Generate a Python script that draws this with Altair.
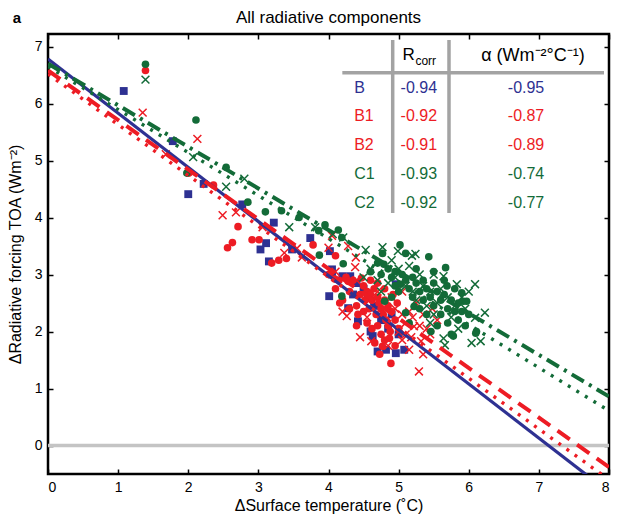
import altair as alt
import pandas as pd

# ---------------- data ----------------
B_points = [(1.08,6.22),(1.78,5.34),(2.00,4.41),(2.22,4.59),(2.77,4.23),(3.03,3.44),(3.11,3.55),
            (3.22,3.91),(3.15,3.23),(3.48,3.44),(3.74,3.64),(4.02,3.41),(4.05,3.09),(4.05,3.00),
            (4.31,2.97),(4.01,2.62),(4.28,2.41),(4.42,2.18),(4.63,1.92),(4.70,1.65),(4.96,1.62),
            (5.08,1.68),(4.82,1.68),(4.96,2.83),(4.56,2.59),(4.50,2.75),(4.65,2.45),(4.75,2.20),
            (4.85,2.05),(4.40,2.85),(4.90,2.30),(5.00,1.95),(4.60,2.00),(4.35,2.65),(4.20,2.97)]

B1_points = [(1.39,6.58),(2.01,4.78),(2.36,4.57),(2.71,3.84),(2.56,3.47),(2.63,3.56),(2.91,3.61),
             (3.01,3.61),(3.19,3.20),(3.29,3.25),(3.40,3.28),(3.78,3.52),(4.10,3.33),(4.09,2.92),
             (4.16,2.50),(4.47,2.94),(4.89,1.44),(4.77,1.74),(4.87,1.88),(4.50,2.80),(4.55,2.70),
             (4.60,2.65),(4.62,2.55),(4.65,2.75),(4.70,2.60),(4.72,2.50),(4.75,2.40),(4.78,2.30),
             (4.80,2.55),(4.82,2.20),(4.85,2.10),(4.88,2.00),(4.90,2.35),(4.68,2.30),(4.58,2.40),
             (4.52,2.55),(4.45,2.65),(4.40,2.45),(4.35,2.90),(4.30,2.70),(4.25,2.95),(4.42,2.30),
             (4.55,2.15),(4.62,2.05),(4.70,2.10),(4.75,1.95),(4.80,1.85),(4.95,2.20),(4.98,2.50),
             (5.00,2.05),(4.60,2.90),(4.70,2.85),(4.80,2.75),(4.92,2.65),(4.66,1.80),(4.73,1.60),
             (4.85,2.45),(4.50,2.35),(4.40,2.10),(4.20,2.55),(4.10,2.75),(4.30,2.40),(4.95,1.75),
             (4.00,3.00),(4.15,2.90),(4.28,2.88)]

B2_points = [(1.35,5.84),(2.13,5.38),(1.68,5.11),(2.49,4.04),(2.68,4.09),(3.06,3.83),(3.37,3.38),
             (3.55,3.46),(3.62,3.30),(4.00,3.47),(4.05,3.68),(4.28,3.50),(4.39,3.30),(4.38,3.13),
             (4.26,2.27),(4.61,1.83),(5.15,1.68),(5.22,2.09),(5.32,1.83),(5.29,1.30),(4.95,2.40),
             (5.05,2.30),(5.10,2.15),(5.15,2.35),(5.20,2.25),(5.25,2.50),(5.30,2.10),(5.35,2.30),
             (5.40,2.05),(5.45,1.95),(5.00,2.00),(5.05,1.85),(5.10,1.95),(5.18,1.90),(4.90,2.60),
             (4.85,1.75),(5.55,2.20),(5.35,1.60),(4.70,2.70),(4.55,2.25),(4.45,1.90),(4.40,2.90),
             (5.05,2.70),(4.10,3.05),(5.48,2.40),(4.20,2.35),(4.58,2.70)]

C1_points = [(1.39,6.69),(2.11,5.71),(1.98,4.78),(2.54,4.88),(2.85,4.27),(3.10,4.10),(3.33,4.12),
             (3.58,4.00),(3.95,3.87),(3.86,3.77),(4.14,3.78),(4.19,3.65),(3.87,3.34),(4.21,3.19),
             (4.77,3.37),(5.02,3.52),(5.10,3.37),(5.43,3.31),(5.67,3.12),(4.19,2.62),(4.80,2.53),
             (5.10,2.33),(4.79,3.18),(5.03,2.83),(5.22,2.44),(5.69,2.80),(5.90,2.68),(5.92,2.53),
             (6.11,2.00),(5.78,1.92),(5.46,2.00),(6.10,1.97),(5.97,2.53),(4.70,3.20),(4.75,3.00),
             (4.85,3.10),(4.90,2.95),(4.95,3.05),(4.95,2.80),(5.00,2.70),(5.05,3.00),(5.10,2.90),
             (5.15,2.75),(5.20,2.95),(5.25,2.85),(5.30,2.70),(5.35,2.90),(5.35,2.55),(5.40,2.75),
             (5.45,2.60),(5.50,2.85),(5.50,2.45),(5.55,2.70),(5.60,2.55),(5.60,2.30),(5.65,2.65),
             (5.70,2.40),(5.70,2.15),(5.75,2.55),(5.80,2.35),(5.85,2.50),(5.85,2.20),(5.90,2.35),
             (5.95,2.10),(5.55,2.10),(5.40,2.30),(5.30,2.40),(5.20,2.60),(5.65,2.90),(5.80,2.75),
             (6.00,2.30),(5.25,3.10),(5.50,3.05),(4.60,3.05),(4.90,2.60),(5.75,1.95),(5.15,2.15)]

C2_points = [(1.39,6.42),(2.07,5.06),(2.54,4.54),(2.80,4.68),(3.44,3.83),(3.81,3.83),(4.06,3.71),
             (4.21,3.65),(4.53,3.43),(4.77,3.48),(5.24,3.36),(4.99,3.41),(5.19,3.33),(5.64,2.97),
             (5.50,3.00),(5.83,2.83),(6.09,2.83),(6.23,2.33),(6.09,2.24),(6.04,1.80),(6.17,1.83),
             (5.64,1.88),(5.66,1.76),(4.60,3.10),(4.70,2.90),(4.85,2.85),(4.95,2.95),(5.00,3.10),
             (5.10,2.80),(5.20,2.70),(5.30,3.00),(5.35,2.80),(5.45,2.70),(5.55,2.50),(5.60,2.75),
             (5.70,2.60),(5.80,2.45),(5.90,2.60),(5.95,2.40),(5.75,2.25),(5.50,2.30),(5.40,2.45),
             (5.25,2.55),(5.15,3.15),(4.90,3.25),(6.00,2.70),(5.85,2.05),(5.45,2.15),(4.75,2.70),
             (4.50,2.95)]

# regression lines: value at x = 0 and at x = 8
line_series = ["B", "B1", "B2", "C1", "C2"]
line_y_at0 = [6.78, 6.58, 6.52, 6.70, 6.65]
line_y_at8 = [-0.82, -0.38, -0.60, 0.86, 0.61]

# table
table_labels = ["B", "B1", "B2", "C1", "C2"]
table_rcorr = ["-0.94", "-0.92", "-0.91", "-0.93", "-0.92"]
table_alpha = ["-0.95", "-0.87", "-0.89", "-0.74", "-0.77"]

colors = {"B": "#2e3192", "B1": "#ed1c24", "B2": "#ed1c24", "C1": "#136b38", "C2": "#136b38"}

# ---------------- layout ----------------
W, H = 561, 440
FONT = "Liberation Sans"
xs = alt.Scale(domain=[0, 8], nice=False, zero=False)
ys = alt.Scale(domain=[-0.5, 7.22], nice=False, zero=False)
X_PATH = "M -1 -1 L 1 1 M -1 1 L 1 -1"


def pts_df(points):
    return pd.DataFrame({"x": [p[0] for p in points], "y": [p[1] for p in points]})


main_x_axis = alt.Axis(values=list(range(9)), ticks=False, domain=False, grid=False,
                       labelFontSize=14, labelFont=FONT, labelColor="black", labelPadding=6,
                       title="ΔSurface temperature (˚C)", titleFont=FONT, titleFontSize=16,
                       titleFontWeight="normal", titleColor="black", titlePadding=3, format="d")
main_y_axis = alt.Axis(values=list(range(8)), ticks=False, domain=False, grid=False,
                       labelFontSize=14, labelFont=FONT, labelColor="black", labelPadding=6,
                       title="ΔRadiative forcing TOA (Wm⁻²)", titleFont=FONT, titleFontSize=16,
                       titleFontWeight="normal", titleColor="black", titlePadding=11, format="d")


def tick_axis(orient, offset, n):
    return alt.Axis(orient=orient, offset=offset, values=list(range(n)), labels=False, ticks=True,
                    tickSize=5, tickWidth=1.5, tickColor="black", domain=False, grid=False, title=None)


def point_layer(points, shape, color, filled, size, first=False):
    kw = dict(shape=shape, size=size, clip=True)
    if filled:
        kw.update(filled=True, color=color, opacity=1, strokeWidth=0)
    else:
        kw.update(filled=False, stroke=color, strokeWidth=1.5, opacity=1)
    return alt.Chart(pts_df(points)).mark_point(**kw).encode(
        x=alt.X("x:Q", scale=xs, axis=main_x_axis if first else None),
        y=alt.Y("y:Q", scale=ys, axis=main_y_axis if first else None),
    )


zero_layer = alt.Chart(pd.DataFrame({"y": [0]})).mark_rule(color="#c4c4c4", strokeWidth=3.5).encode(
    y=alt.Y("y:Q", scale=ys, axis=None))

b_layer = point_layer(B_points, "square", colors["B"], True, 62, first=True)
b2_layer = point_layer(B2_points, X_PATH, colors["B2"], False, 62)
b1_layer = point_layer(B1_points, "circle", colors["B1"], True, 58)
c2_layer = point_layer(C2_points, X_PATH, colors["C2"], False, 62)
c1_layer = point_layer(C1_points, "circle", colors["C1"], True, 58)

dash = {"B": None, "B1": [15, 9], "B2": [3, 7], "C1": [14, 6, 3, 6], "C2": [3, 7]}
widths = {"B": 3.2, "B1": 4, "B2": 3.4, "C1": 4, "C2": 3.4}

line_layers = []
for i, s in enumerate(line_series):
    df = pd.DataFrame({"x": [0, 8], "y": [line_y_at0[i], line_y_at8[i]]})
    kw = dict(color=colors[s], strokeWidth=widths[s], clip=True)
    if dash[s]:
        kw["strokeDash"] = dash[s]
    if i == 0:
        ax_x, ax_y = tick_axis("top", -H, 9), tick_axis("right", -W, 8)
    elif i == 1:
        ax_x, ax_y = tick_axis("bottom", -H, 9), tick_axis("left", -W, 8)
    else:
        ax_x, ax_y = None, None
    line_layers.append(alt.Chart(df).mark_line(**kw).encode(
        x=alt.X("x:Q", scale=xs, axis=ax_x),
        y=alt.Y("y:Q", scale=ys, axis=ax_y),
    ))

# table
fx = W / 568.0
table_df = pd.DataFrame({"label": table_labels, "rcorr": table_rcorr, "alpha": table_alpha,
                         "color": [colors[s] for s in table_labels], "row": list(range(5))})
one = pd.DataFrame({"k": [0]})
ROW0, DROW = 53.5, 28.8
GRAY = "#a3a3a3"
rules = [
    alt.Chart(one).mark_rule(color=GRAY, strokeWidth=3.5).encode(
        x=alt.value(298 * fx), x2=alt.value(W - 5), y=alt.value(38.7)),
    alt.Chart(one).mark_rule(color=GRAY, strokeWidth=3.5).encode(
        x=alt.value(349 * fx), y=alt.value(6), y2=alt.value(179)),
    alt.Chart(one).mark_rule(color=GRAY, strokeWidth=3.5).encode(
        x=alt.value(406 * fx), y=alt.value(6), y2=alt.value(179)),
]


def col_text(field, xpos, align):
    return alt.Chart(table_df).transform_calculate(py=f"{ROW0} + datum.row * {DROW}").mark_text(
        align=align, baseline="middle", font=FONT, fontSize=16).encode(
        x=alt.value(xpos), y=alt.Y("py:Q", scale=None, axis=None),
        text=alt.Text(f"{field}:N"), color=alt.Color("color:N", scale=None, legend=None))


def label(txt, x, y, size, align="left", weight="normal"):
    return alt.Chart(one).mark_text(text=txt, align=align, baseline="middle", font=FONT,
                                    fontSize=size, fontWeight=weight, color="black").encode(
        x=alt.value(x), y=alt.value(y))


texts = [
    col_text("label", 310 * fx, "left"),
    col_text("rcorr", 357 * fx, "left"),
    col_text("alpha", 484 * fx, "center"),
    label("R", 359 * fx, 21, 17),
    label("corr", 372 * fx, 27, 12),
    label("α (Wm⁻²°C⁻¹)", 491 * fx, 22, 18, align="center"),
    label("a", -31, -16, 15, align="center", weight="bold"),
    label("All radiative components", W / 2, -16, 17, align="center"),
]

chart = alt.layer(
    zero_layer, b_layer, b2_layer, b1_layer, c2_layer, c1_layer,
    *line_layers, *rules, *texts,
).resolve_axis(x="independent", y="independent").properties(
    width=W, height=H,
    autosize=alt.AutoSizeParams(type="none"),
    padding={"left": 40, "top": 26, "right": 4, "bottom": 40},
).configure_view(stroke="black", strokeWidth=2.5)

chart.save("out.html", embed_options={"renderer": "svg", "actions": False})
